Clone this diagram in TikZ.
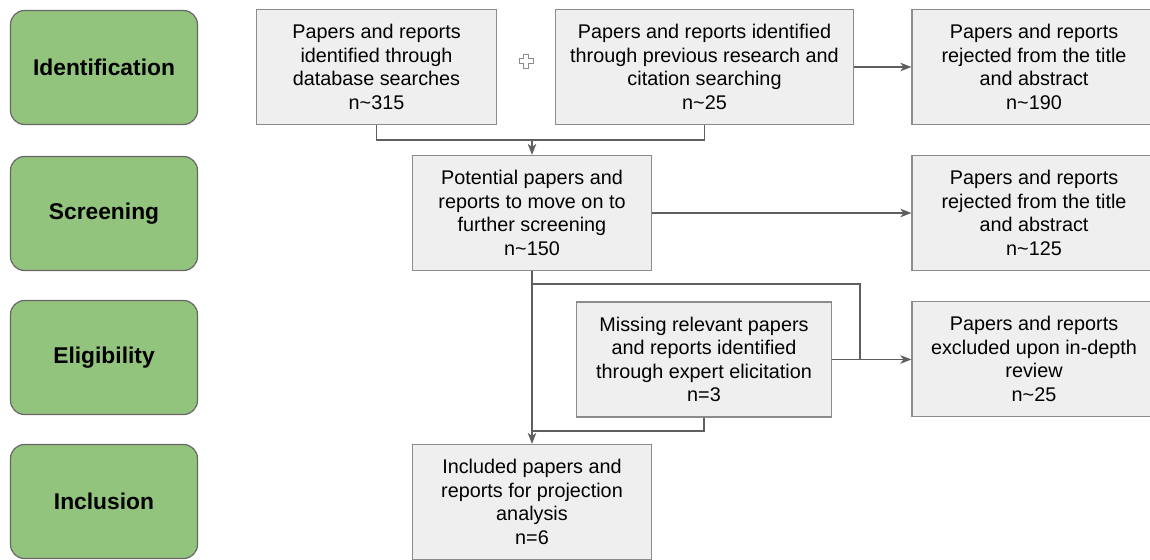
\documentclass[tikz,border=0pt]{standalone}
\usepackage{fontspec}
\setmainfont{Liberation Sans}
\usepackage{xcolor}
\usetikzlibrary{positioning, arrows.meta}

\definecolor{stagegreen}{HTML}{93C47D}
\definecolor{stageedge}{HTML}{666666}
\definecolor{boxgray}{HTML}{EFEFEF}
\definecolor{boxedge}{HTML}{8C8C8C}
\definecolor{linegray}{HTML}{5F5F5F}

\begin{document}
\begin{tikzpicture}[x=1pt, y=-1pt,
    stage/.style={draw=stageedge, fill=stagegreen, line width=1.2pt, rounded corners=14pt, minimum width=187pt, minimum height=114pt, font=\fontsize{22.8}{26}\selectfont\bfseries},
    box/.style={draw=boxedge, fill=boxgray, line width=1.2pt, align=center, inner sep=0pt, minimum height=115pt, font=\fontsize{19.8}{23.5}\selectfont},
    link/.style={draw=linegray, line width=1.3pt},
    arrow/.style={link, -{Stealth[length=11pt, width=8.5pt, inset=3pt]}}
]
    \useasboundingbox (0,0) rectangle (1150,559);

    % stages
    \node (ident) [stage] at (104,67.5) {Identification};
    \node (screen) [stage] at (104,213.5) {Screening};
    \node (elig) [stage] at (104,357.5) {Eligibility};
    \node (incl) [stage] at (104,501.5) {Inclusion};

    % boxes
    \node (dbase) [box, minimum width=240pt] at (376.5,67) {Papers and reports\\identified through\\database searches\\n\textasciitilde315};
    \node (prev) [box, minimum width=298pt] at (704.5,67) {Papers and reports identified\\through previous research and\\citation searching\\n\textasciitilde25};
    \node (rejA) [box, minimum width=244pt] at (1034,67) {Papers and reports\\rejected from the title\\and abstract\\n\textasciitilde190};
    \node (pot) [box, minimum width=239pt] at (532,213) {Potential papers and\\reports to move on to\\further screening\\n\textasciitilde150};
    \node (rejB) [box, minimum width=244pt] at (1034,213) {Papers and reports\\rejected from the title\\and abstract\\n\textasciitilde125};
    \node (miss) [box, minimum width=255pt] at (704,359.5) {Missing relevant papers\\and reports identified\\through expert elicitation\\n=3};
    \node (excl) [box, minimum width=244pt] at (1034,359) {Papers and reports\\excluded upon in-depth\\review\\n\textasciitilde25};
    \node (inc) [box, minimum width=239pt] at (532,502) {Included papers and\\reports for projection\\analysis\\n=6};

    % plus sign
    \draw [boxedge, fill=white, line width=0.9pt]
        (523.5,54) -- (528.5,54) -- (528.5,58.5) -- (533,58.5) -- (533,63.5) -- (528.5,63.5) -- (528.5,68) -- (523.5,68) -- (523.5,63.5) -- (519,63.5) -- (519,58.5) -- (523.5,58.5) -- cycle;

    \coordinate (merge) at (532,140);
    \coordinate (split) at (532,284);
    \coordinate (bend) at (860,359);
    \coordinate (rejoin) at (532,431);

    \path [link] (dbase.south) |- (merge) -| (prev.south);
    \path [arrow] (merge) -- (pot.north);
    \path [arrow] (prev.east) -- (prev.east -| rejA.west);
    \path [arrow] (pot.east) -- (pot.east -| rejB.west);
    \path [arrow] (pot.south) -- (inc.north);
    \path [link] (split) -| (bend);
    \path [arrow] (miss.east) -- (miss.east -| excl.west);
    \path [link] (miss.south) |- (rejoin);
\end{tikzpicture}
\end{document}
